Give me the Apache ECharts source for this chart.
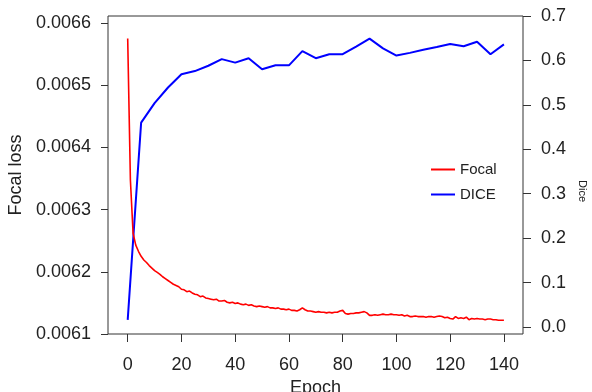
<!DOCTYPE html>
<html>
<head>
<meta charset="utf-8">
<script src="https://cdn.jsdelivr.net/npm/echarts@6/dist/echarts.min.js"></script>
<style>
  html, body { margin: 0; padding: 0; background: #fff; }
  #chart { width: 592px; height: 392px; }
</style>
</head>
<body>
<div id="chart"></div>
<script>
// tick labels
const epochTicks = [0, 20, 40, 60, 80, 100, 120, 140];
const focalTicks = [0.0061, 0.0062, 0.0063, 0.0064, 0.0065, 0.0066];
const diceTicks = [0, 0.1, 0.2, 0.3, 0.4, 0.5, 0.6, 0.7];

// focal loss, one value per epoch (0..140)
const focalLoss = [
  0.006575, 0.006348, 0.006262, 0.006243, 0.006233, 0.006225, 0.006219, 0.006215, 0.006210, 0.006206,
  0.006202, 0.006199, 0.006196, 0.006192, 0.006189, 0.006186, 0.006183, 0.006180, 0.006178, 0.006176,
  0.006172, 0.006171, 0.006168, 0.006169, 0.006166, 0.006164, 0.006163, 0.006160, 0.006161, 0.006158,
  0.006157, 0.006156, 0.006155, 0.006156, 0.006153, 0.006153, 0.006154, 0.006151, 0.006150, 0.006151,
  0.006149, 0.006150, 0.006148, 0.006147, 0.006148, 0.006146, 0.006147, 0.006145, 0.006144, 0.006145,
  0.006144, 0.006143, 0.006144, 0.006142, 0.006142, 0.006141, 0.006142, 0.006140, 0.006140, 0.006139,
  0.006140, 0.006138, 0.006138, 0.006137, 0.006139, 0.006142, 0.006139, 0.006137, 0.006137, 0.006136,
  0.006135, 0.006136, 0.006135, 0.006135, 0.006134, 0.006135, 0.006134, 0.006135, 0.006135, 0.006137,
  0.006138, 0.006133, 0.006132, 0.006133, 0.006133, 0.006134, 0.006134, 0.006135, 0.006136, 0.006134,
  0.006130, 0.006130, 0.006131, 0.006130, 0.006131, 0.006132, 0.006131, 0.006131, 0.006132, 0.006131,
  0.006131, 0.006130, 0.006131, 0.006129, 0.006130, 0.006128, 0.006128, 0.006129, 0.006128, 0.006128,
  0.006128, 0.006127, 0.006128, 0.006128, 0.006127, 0.006128, 0.006129, 0.006128, 0.006126, 0.006127,
  0.006125, 0.006124, 0.006128, 0.006125, 0.006126, 0.006125, 0.006127, 0.006123, 0.006125, 0.006124,
  0.006125, 0.006124, 0.006124, 0.006123, 0.006124, 0.006124, 0.006123, 0.006123, 0.006122, 0.006122,
  0.006122
];

// dice, every 5 epochs
const diceEpochs = [0, 5, 10, 15, 20, 25, 30, 35, 40, 45, 50, 55, 60, 65, 70, 75, 80, 85, 90, 95, 100, 105, 110, 115, 120, 125, 130, 135, 140];
const diceScore = [
  0.016, 0.460, 0.504, 0.539, 0.569, 0.576, 0.588, 0.603, 0.595, 0.605,
  0.580, 0.589, 0.589, 0.621, 0.605, 0.614, 0.614, 0.631, 0.649, 0.627,
  0.611, 0.617, 0.624, 0.630, 0.637, 0.632, 0.642, 0.614, 0.636
];

const font = 'Liberation Sans, Arial, Helvetica, sans-serif';
const textColor = '#222';
const lineColor = '#333';

const chart = echarts.init(document.getElementById('chart'));

chart.setOption({
  animation: false,
  backgroundColor: '#fff',
  textStyle: { fontFamily: font },
  grid: {
    left: 108, top: 16, right: 69, bottom: 58,
    outerBoundsMode: 'none',
    containLabel: false,
    show: true, borderColor: lineColor, borderWidth: 1, backgroundColor: 'transparent'
  },
  legend: {
    orient: 'vertical',
    left: 426, top: 157,
    icon: 'rect',
    itemWidth: 24, itemHeight: 2, itemGap: 10,
    data: ['Focal', 'DICE'],
    textStyle: { fontFamily: font, fontSize: 15, color: textColor }
  },
  xAxis: {
    type: 'value',
    min: -7.33, max: 147.1,
    name: 'Epoch', nameLocation: 'middle', nameGap: 37,
    nameTextStyle: { fontFamily: font, fontSize: 18, color: textColor },
    axisLine: { show: false, onZero: false },
    splitLine: { show: false },
    axisTick: { show: true, length: 8, lineStyle: { color: lineColor }, customValues: epochTicks },
    axisLabel: { fontSize: 18, color: textColor, margin: 22, customValues: epochTicks, formatter: v => String(v) }
  },
  yAxis: [
    {
      type: 'value',
      min: 0.0061, max: 0.0066113,
      name: 'Focal loss', nameLocation: 'middle', nameGap: 75,
      nameTextStyle: { fontFamily: font, fontSize: 18, color: textColor },
      axisLine: { show: false, onZero: false },
      splitLine: { show: false },
      axisTick: { show: true, length: 7, lineStyle: { color: lineColor }, customValues: focalTicks },
      axisLabel: { fontSize: 18, color: textColor, margin: 17, customValues: focalTicks, formatter: v => v.toFixed(4) }
    },
    {
      type: 'value',
      position: 'right',
      min: -0.0158, max: 0.7,
      name: 'Dice', nameLocation: 'middle', nameGap: 54, nameRotate: -90,
      nameTextStyle: { fontFamily: font, fontSize: 11, color: textColor, padding: [0, 0, 0, 32] },
      axisLine: { show: false, onZero: false },
      splitLine: { show: false },
      axisTick: { show: true, length: 8, lineStyle: { color: lineColor }, customValues: diceTicks },
      axisLabel: { fontSize: 18, color: textColor, margin: 18, customValues: diceTicks, formatter: v => v.toFixed(1) }
    }
  ],
  series: [
    {
      name: 'DICE',
      type: 'line',
      yAxisIndex: 1,
      data: diceEpochs.map((e, i) => [e, diceScore[i]]),
      symbol: 'none',
      z: 2,
      lineStyle: { color: '#0000ff', width: 2 },
      itemStyle: { color: '#0000ff' }
    },
    {
      name: 'Focal',
      type: 'line',
      yAxisIndex: 0,
      data: focalLoss.map((v, i) => [i, v]),
      symbol: 'none',
      z: 3,
      lineStyle: { color: '#ff0000', width: 1.6 },
      itemStyle: { color: '#ff0000' }
    }
  ]
});
</script>
</body>
</html>
